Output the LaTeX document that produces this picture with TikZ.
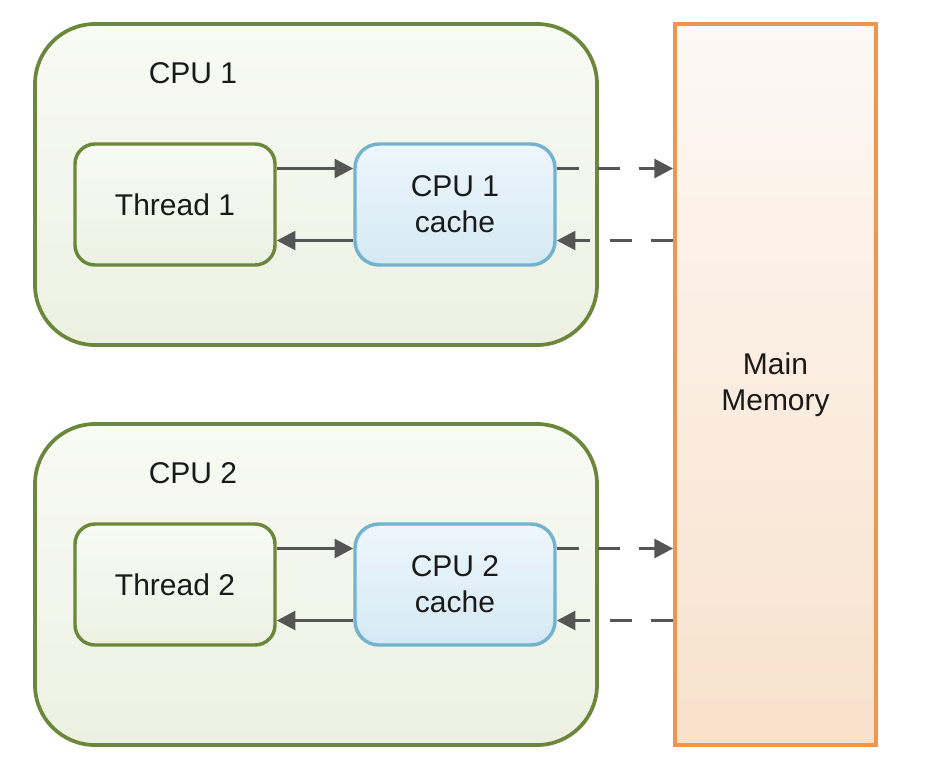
\documentclass[tikz,border=0pt]{standalone}
\usepackage{fontspec}
\setmainfont{Liberation Sans}
\usetikzlibrary{arrows.meta,shadows,positioning}
\definecolor{cpuline}{HTML}{6B873A}
\definecolor{cputop}{HTML}{F8FAF4}
\definecolor{cpubot}{HTML}{EDF1E3}
\definecolor{cacheline}{HTML}{74B3CD}
\definecolor{cachetop}{HTML}{EDF6FB}
\definecolor{cachebot}{HTML}{D5E9F4}
\definecolor{memline}{HTML}{EE9650}
\definecolor{memtop}{HTML}{FDF8F4}
\definecolor{membot}{HTML}{F8E1CC}
\definecolor{arrowgray}{HTML}{555555}
\definecolor{textgray}{HTML}{1A1A1A}

\tikzset{
    cpubox/.style={draw=cpuline, line width=2.8pt, rounded corners=45pt,
        top color=cputop, bottom color=cpubot,
        minimum width=421.5pt, minimum height=240.75pt},
    threadbox/.style={draw=cpuline, line width=2.6pt, rounded corners=15pt,
        top color=cputop, bottom color=cpubot,
        minimum width=150pt, minimum height=90.75pt},
    cachebox/.style={draw=cacheline, line width=2.6pt, rounded corners=18pt,
        top color=cachetop, bottom color=cachebot, align=center,
        minimum width=150pt, minimum height=90.75pt},
    membox/.style={draw=memline, line width=2.8pt,
        top color=memtop, bottom color=membot, align=center,
        drop shadow={opacity=0.12, shadow xshift=1pt, shadow yshift=-1pt},
        minimum width=150.75pt, minimum height=540.75pt},
    link/.style={draw=arrowgray, line width=2.6pt,
        -{Triangle[length=14pt,width=14pt]}},
    memlink/.style={link, dash pattern=on 16.5pt off 14.5pt}
}

\begin{document}
\begin{tikzpicture}[x=0.75pt,y=-0.75pt,
    every node/.style={text=textgray, font=\fontsize{22.5}{27}\selectfont}]
\useasboundingbox (0,0) rectangle (932,776);
%draw main memory
    \node[membox] (mem) at (775.5,384.5) {Main\\Memory};
%draw cpus
    \node[cpubox] (cpu1) at (316,184.5) {};
    \node[cpubox] (cpu2) at (316,584.5) {};
    \node (cpu1label) at (193,73) {CPU 1};
    \node (cpu2label) at (193,473) {CPU 2};
%draw threads and caches
    \node[threadbox] (t1) at (175,204.5) {Thread 1};
    \node[cachebox] (c1) at (455,204.5) {CPU 1\\cache};
    \node[threadbox] (t2) at (175,584.5) {Thread 2};
    \node[cachebox] (c2) at (455,584.5) {CPU 2\\cache};
%draw directed edges
    \foreach \t/\c in {t1/c1,t2/c2}{
        \draw[link] ([yshift=27pt]\t.east) -- ([yshift=27pt]\c.west);
        \draw[link] ([yshift=-27pt]\c.west) -- ([yshift=-27pt]\t.east);
        \draw[memlink] ([yshift=27pt]\c.east) -- ([yshift=27pt]\c.east -| mem.west);
        \draw[memlink] ([yshift=-27pt]\c.east -| mem.west) -- ([yshift=-27pt]\c.east);
    }
\end{tikzpicture}
\end{document}
